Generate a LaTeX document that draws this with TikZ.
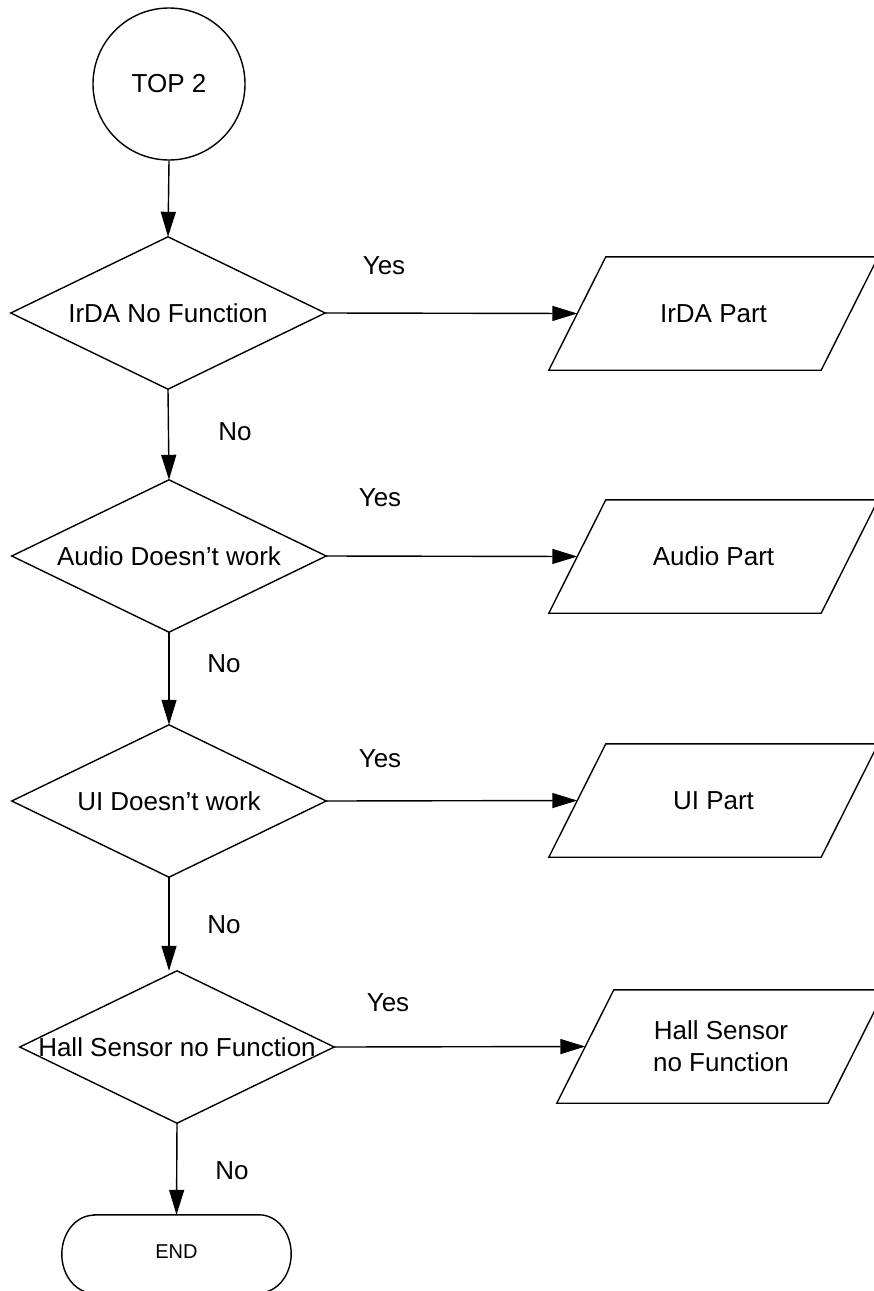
\documentclass[tikz,border=0pt]{standalone}
\usepackage{fontspec}
\setmainfont{Liberation Sans}
\usetikzlibrary{arrows.meta}
\begin{document}
\begin{tikzpicture}[x=1pt,y=-1pt,
  lw/.style={line width=1.4pt},
  txt/.style={font=\fontsize{26pt}{32pt}\selectfont, inner sep=0pt},
  decbox/.style={txt, minimum width=314pt, minimum height=152pt},
  iobox/.style={txt, align=center, minimum width=272pt, minimum height=113pt},
  conn/.style={lw, -{Triangle[length=25pt,width=15pt]}},
  line/.style={lw}]
\useasboundingbox (0,0) rectangle (874,1291);
\clip (0,0) rectangle (874,1291);
\fill[white] (0,0) rectangle (874,1291);

\node[txt, circle, draw, lw, minimum size=152pt] (top) at (169,84) {TOP 2};

\node[decbox] (d1) at (168,313) {IrDA No Function};
\node[decbox] (d2) at (169,556) {Audio Doesn’t work};
\node[decbox] (d3) at (169,801) {UI Doesn’t work};
\node[decbox] (d4) at (177,1047) {Hall Sensor no Function};
\foreach \n in {d1,d2,d3,d4}
  \draw[line] (\n.north) -- (\n.east) -- (\n.south) -- (\n.west) -- cycle;

\node[iobox] (p1) at (713.5,313.5) {IrDA Part};
\node[iobox] (p2) at (713.5,556.5) {Audio Part};
\node[iobox] (p3) at (713.5,800.5) {UI Part};
\node[iobox, minimum width=271pt] (p4) at (721,1046.5) {Hall Sensor\\no Function};
\foreach \n in {p1,p2,p3,p4}
  \draw[line] ([xshift=28.5pt]\n.north west) -- ([xshift=28.5pt]\n.north east)
     -- ([xshift=-28.5pt]\n.south east) -- ([xshift=-28.5pt]\n.south west) -- cycle;

\node[txt, minimum width=231pt, minimum height=78pt] (e) at (176.5,1254) {};
\node[txt, font=\fontsize{20pt}{24pt}\selectfont] (etxt) at (176.5,1252) {END};
\draw[line] ([xshift=33pt]e.north west) -- ([xshift=-33pt]e.north east)
  arc[start angle=90, end angle=-90, x radius=32pt, y radius=39pt]
  -- ([xshift=33pt]e.south west)
  arc[start angle=270, end angle=90, x radius=32pt, y radius=39pt] -- cycle;

\draw[conn] (top.south) -- (d1.north);
\draw[conn] (d1.south) -- (d2.north);
\draw[conn] (d2.south) -- (d3.north);
\coordinate (d4top) at (d3.south |- d4.north);
\draw[conn] (d3.south) -- (d4top);
\draw[conn] (d4.south) -- (e.north);

\draw[conn] (d1.east) -- (p1.west);
\draw[conn] (d2.east) -- (p2.west);
\draw[conn] (d3.east) -- (p3.west);
\draw[conn] (d4.east) -- (p4.west);

\node[txt] (y1) at (384,266) {Yes};
\node[txt] (y2) at (380,498) {Yes};
\node[txt] (y3) at (380,759) {Yes};
\node[txt] (y4) at (388,1003) {Yes};
\node[txt] (n1) at (235,432) {No};
\node[txt] (n2) at (224,664) {No};
\node[txt] (n3) at (224,925) {No};
\node[txt] (n4) at (232,1171) {No};
\end{tikzpicture}
\end{document}
